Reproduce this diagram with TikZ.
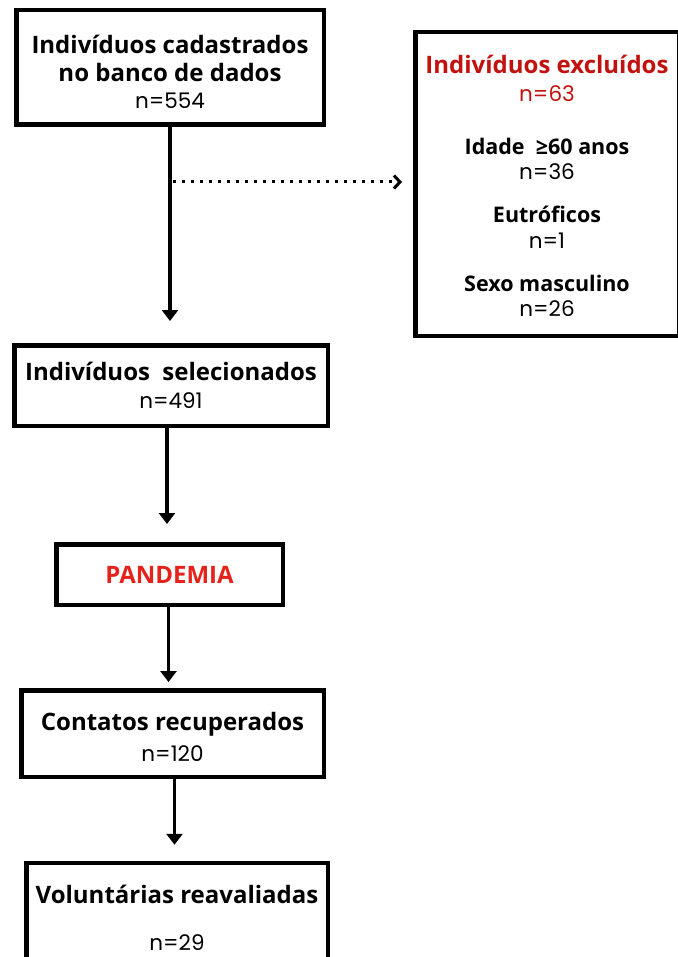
\documentclass[tikz,border=0pt]{standalone}
\usepackage{fontspec}
\setmainfont{Open Sans}
\newfontfamily\numfont{Poppins}
\usetikzlibrary{arrows.meta,positioning}
\definecolor{exred}{HTML}{C2120F}
\definecolor{pandred}{HTML}{E5231B}
\newcommand\nn[1]{{\numfont\mdseries\fontsize{21.5}{28}\selectfont n=#1}}
\newcommand\sub[1]{{\fontsize{21.5}{25}\selectfont #1}}
\begin{document}
\begin{tikzpicture}[x=1pt,y=-1pt,>={Triangle[width=16pt,length=11pt]},
 box/.style={draw,line width=4.5pt,align=center,inner sep=0pt,font=\bfseries\fontsize{24}{28}\selectfont},
 a/.style={->,line width=3.5pt},
 d/.style={-{Straight Barb[length=6pt,width=13pt]},line width=3pt,dash pattern=on 3pt off 6pt}]
\useasboundingbox (0,0) rectangle (677,957);
\node[box,minimum width=307.5pt,minimum height=114.5pt] (banco) at (170,67.5)
 {\rule{0pt}{27pt}Indivíduos cadastrados\\no banco de dados\\[-1pt]\nn{554}};
\node[box,minimum width=263.5pt,minimum height=303.5pt] (excl) at (547,184)
 {\rule{0pt}{22pt}\textcolor{exred}{Indivíduos excluídos}\\\textcolor{exred}{\nn{63}}\\[25pt]
  \sub{Idade\ \ ≥60 anos}\\[-3pt]\nn{36}\\[15pt]
  \sub{Eutróficos}\\[-2pt]\nn{1}\\[15pt]
  \sub{Sexo masculino}\\[-3pt]\nn{26}};
\node[box,minimum width=313.5pt,minimum height=80.5pt] (sel) at (171,385.5)
 {Indivíduos\ \ selecionados\\\nn{491}};
\node[box,minimum width=226.5pt,minimum height=60.5pt,text=pandred] (pand) at (169.5,574.5) {PANDEMIA};
\node[box,minimum width=302.5pt,minimum height=86.5pt] (cont) at (172.5,733.5)
 {\rule{0pt}{25pt}Contatos recuperados\\[3pt]\nn{120}};
\node[box,minimum width=301.5pt,minimum height=110pt] (vol) at (177,918)
 {Voluntárias reavaliadas\\[19pt]\nn{29}};
\coordinate (split) at (173,182);
\draw[a,shorten >=22pt] (banco.south) -- (banco.south |- sel.north);
\draw[d,shorten >=11pt] (split) -- (split -| excl.west);
\draw[a,shorten >=18pt] ([xshift=-4pt]sel.south) -- ([xshift=-4pt]sel.south |- pand.north);
\draw[a,shorten >=6pt] ([xshift=-1pt]pand.south) -- ([xshift=-1pt]pand.south |- cont.north);
\draw[a,shorten >=16pt] ([xshift=2pt]cont.south) -- ([xshift=2pt]cont.south |- vol.north);
\end{tikzpicture}
\end{document}
